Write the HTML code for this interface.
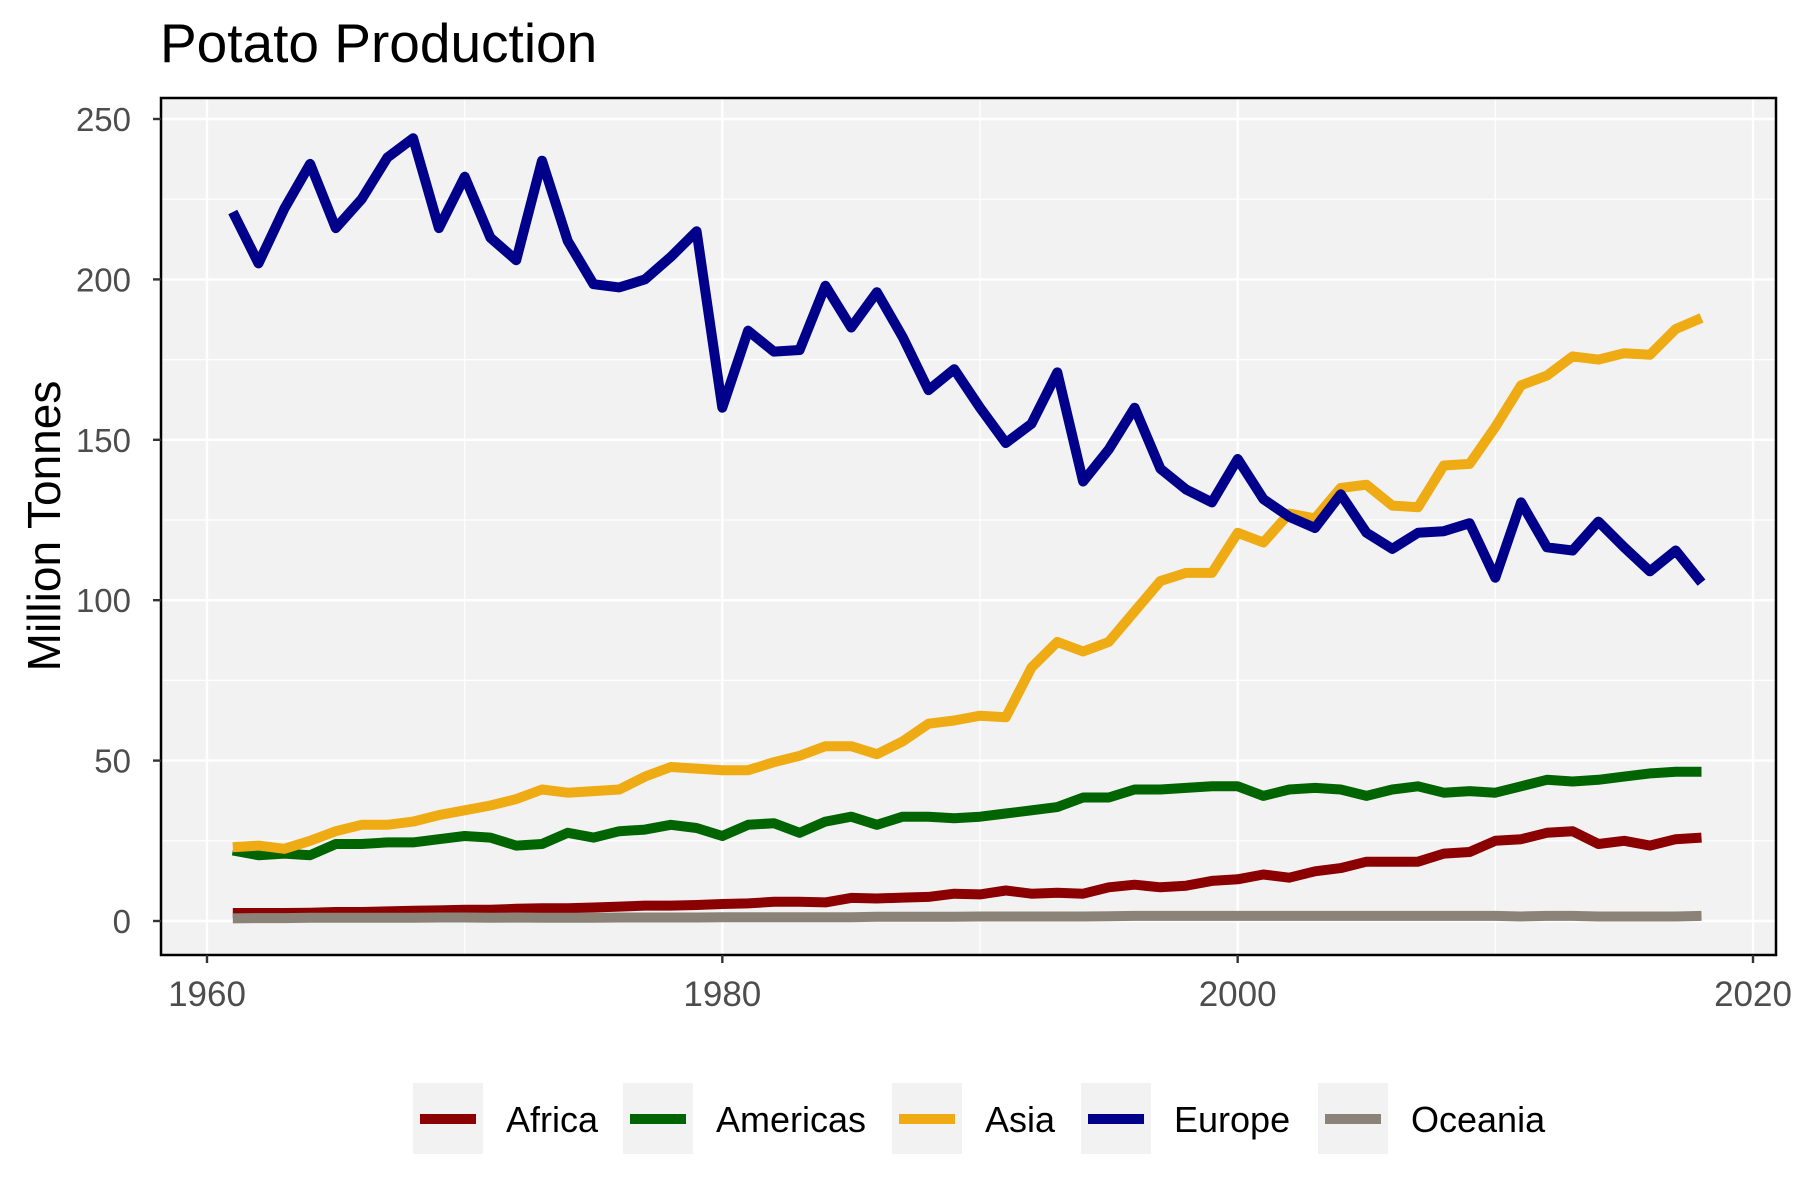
<!DOCTYPE html>
<html><head><meta charset="utf-8"><style>
body{margin:0;background:#fff;}
svg{display:block;font-family:"Liberation Sans",Arial,sans-serif;}
</style></head><body>
<svg id="chart" width="1800" height="1200" viewBox="0 0 1800 1200">
<text x="160" y="62" font-size="55" fill="#000">Potato Production</text>
<rect x="161" y="98" width="1615" height="857" fill="#f2f2f2"/>
<g id="grid"></g>
<g id="series"></g>
<rect x="161" y="98" width="1615" height="857" fill="none" stroke="#000" stroke-width="2.5"/>
<g id="axes"></g>
<text transform="translate(60,526) rotate(-90)" text-anchor="middle" font-size="46" fill="#000">Million Tonnes</text>
<g id="legend"></g>
</svg>
<script>
const years=[];for(let y=1961;y<=2018;y++)years.push(y);
const europe=[221,205,222,236,216,225,238,244,216,232,213,206,237,212,198.5,197.5,200,207,215,160,184,177.5,178,198,185,196,182,165.5,172,160,149,155,171,137,147,160,141,134.5,130.5,144,131.5,126,122.5,133,121,116,121,121.5,124,107,130.5,116.5,115.5,124.5,116.5,109,115.5,105.5];
const asia=[23,23.5,22.5,25,28,30,30,31,33,34.5,36,38,41,40,40.5,41,45,48,47.5,47,47,49.5,51.5,54.5,54.5,52,56,61.5,62.5,64,63.5,79,87,84,87,96.5,106,108.5,108.5,121,118,127,125.5,135,136,129.5,129,142,142.5,154,167,170,176,175,177,176.5,184.5,188];
const americas=[22,20.5,21,20.5,24,24,24.5,24.5,25.5,26.5,26,23.5,24,27.5,26,28,28.5,30,29,26.5,30,30.5,27.5,31,32.5,30,32.5,32.5,32,32.5,33.5,34.5,35.5,38.5,38.5,41,41,41.5,42,42,39,41,41.5,41,39,41,42,40,40.5,40,42,44,43.5,44,45,46,46.5,46.5];
const africa=[2.5,2.5,2.5,2.6,2.8,2.8,3,3.2,3.3,3.5,3.5,3.8,4,4,4.2,4.5,4.8,4.8,5,5.3,5.5,6,6,5.8,7.2,7,7.3,7.5,8.5,8.3,9.5,8.5,8.8,8.5,10.5,11.3,10.5,11,12.5,13,14.5,13.5,15.5,16.5,18.5,18.5,18.5,21,21.5,25,25.5,27.5,28,24,25,23.5,25.5,26];
const oceania=[0.8,0.9,0.9,1,1,1,1,1,1.1,1.1,1,1.1,1,1,1,1.1,1.1,1.1,1.1,1.2,1.2,1.2,1.2,1.2,1.2,1.3,1.3,1.3,1.3,1.4,1.4,1.4,1.4,1.4,1.5,1.6,1.6,1.6,1.6,1.6,1.6,1.6,1.6,1.6,1.6,1.6,1.6,1.6,1.6,1.6,1.4,1.6,1.6,1.4,1.4,1.4,1.4,1.6];
const xTicks=[1960,1980,2000,2020];
const yTicks=[0,50,100,150,200,250];
const seriesNames=["Africa","Americas","Asia","Europe","Oceania"];
const seriesColors=["#8b0000","#006400","#eeab14","#00008b","#8c8378"];
const seriesData=[africa,americas,asia,europe,oceania];
const NS="http://www.w3.org/2000/svg";
const X=v=>207+(v-1960)*(1753-207)/60;
const Y=v=>921-v*(921-119)/250;
function mk(tag,attrs,parent){const e=document.createElementNS(NS,tag);for(const k in attrs)e.setAttribute(k,attrs[k]);parent.appendChild(e);return e;}
const grid=document.getElementById('grid'),axes=document.getElementById('axes'),ser=document.getElementById('series'),leg=document.getElementById('legend');
for(let i=0;i<yTicks.length;i++){
 if(i<yTicks.length-1){const m=(yTicks[i]+yTicks[i+1])/2;const g=mk('line',{x1:161,x2:1776,y1:Y(m),y2:Y(m),stroke:'#fff','stroke-width':1.2},grid);
 
 }
 const l=mk('line',{x1:161,x2:1776,y1:Y(yTicks[i]),y2:Y(yTicks[i]),stroke:'#fff','stroke-width':2.4},grid);
 
 
 const t=mk('line',{x1:153,x2:161,y1:Y(yTicks[i]),y2:Y(yTicks[i]),stroke:'#333','stroke-width':2.4},axes);
 
 
 const tx=mk('text',{x:131,y:Y(yTicks[i])+12,'text-anchor':'end','font-size':33,fill:'#4d4d4d'},axes);tx.textContent=yTicks[i];
 
 
}
for(let i=0;i<xTicks.length;i++){
 if(i<xTicks.length-1){const m=(xTicks[i]+xTicks[i+1])/2;const g=mk('line',{x1:X(m),x2:X(m),y1:98,y2:955,stroke:'#fff','stroke-width':1.2},grid);
 
 }
 const l=mk('line',{x1:X(xTicks[i]),x2:X(xTicks[i]),y1:98,y2:955,stroke:'#fff','stroke-width':2.4},grid);
 
 
 const t=mk('line',{x1:X(xTicks[i]),x2:X(xTicks[i]),y1:955,y2:963,stroke:'#333','stroke-width':2.4},axes);
 
 
 const tx=mk('text',{x:X(xTicks[i]),y:1006,'text-anchor':'middle','font-size':35,fill:'#4d4d4d'},axes);tx.textContent=xTicks[i];
 
 
}
seriesData.forEach((d,i)=>{
 const pts=d.map((v,j)=>X(years[j]).toFixed(1)+','+Y(v).toFixed(1)).join(' ');
 const p=mk('polyline',{points:pts,fill:'none',stroke:seriesColors[i],'stroke-width':10,'stroke-linejoin':'round','stroke-linecap':'butt'},ser);
 
 
});
const boxX=[413,623,892,1081,1318];
seriesNames.forEach((n,i)=>{
 const g=mk('g',{},leg);
 
 
 mk('rect',{x:boxX[i],y:1083,width:70,height:71,fill:'#f2f2f2'},g);
 mk('line',{x1:boxX[i]+7,x2:boxX[i]+63,y1:1119,y2:1119,stroke:seriesColors[i],'stroke-width':10},g);
 const t=mk('text',{x:boxX[i]+93,y:1132,'font-size':36,fill:'#000'},g);t.textContent=n;
});
</script>
</body></html>
